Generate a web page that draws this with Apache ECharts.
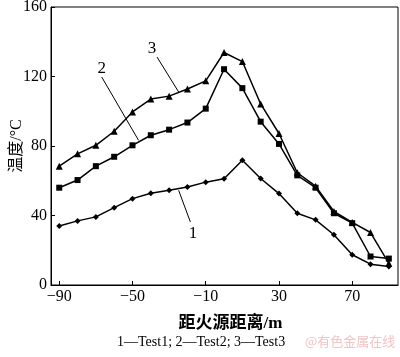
<!DOCTYPE html>
<html><head><meta charset="utf-8">
<script src="https://cdn.jsdelivr.net/npm/echarts@6/dist/echarts.min.js"></script>
<style>html,body{margin:0;padding:0;background:#fff}#c{width:400px;height:357px}</style>
</head><body><div id="c"></div>
<script>
var distances = [-90,-80,-70,-60,-50,-40,-30,-20,-10,0,10,20,30,40,50,60,70,80,90];
var test1 = [34.0,36.9,39.2,44.5,49.7,52.8,54.5,56.4,59.2,61.2,71.8,61.3,52.6,41.3,37.5,28.9,17.4,12.0,10.7];
var test2 = [56.0,60.4,68.4,73.8,80.4,86.2,89.4,93.5,101.5,124.2,113.3,94.0,81.2,63.1,56.0,41.3,35.6,16.4,15.2];
var test3 = [68.4,75.5,80.4,88.5,99.6,107.0,108.7,112.8,117.5,133.8,128.6,104.2,87.2,64.6,56.9,42.3,36.0,30.2,12.5];
var xTicks = [-90,-50,-10,30,70];
var yTicks = [0,40,80,120,160];
var seriesNames = ['Test1','Test2','Test3'];
var labelTexts = ['1','2','3'];
var labelPos = [[-16.9,29.6],[-66.8,124.5],[-39.4,136]];
var leaders = [[[-18.4,36.3],[-24.8,54.5]],[[-66.8,119.7],[-46.7,83.3]],[[-36.6,131.2],[-24.8,111.1]]];

var serif = '"Liberation Serif", "Times New Roman", serif';
var cjk = '"Liberation Serif", "Noto Sans CJK SC", serif';
function pairs(arr){ return distances.map(function(d,i){return [d, arr[i]];}); }
var symbols = ['diamond','rect','triangle'];
var sizes = [6,6,7];
var data = [test1,test2,test3];
var chart = echarts.init(document.getElementById('c'));
var series = data.map(function(arr, k){
  return {
    name: seriesNames[k], type: 'line', data: pairs(arr),
    symbol: symbols[k], symbolSize: sizes[k], showAllSymbol: true,
    lineStyle: {color:'#000', width:1.5}, itemStyle: {color:'#000'},
    animation: false, z: 3,
    markLine: {silent:true, symbol:'none', animation:false,
      lineStyle:{color:'#000', width:1, type:'solid'}, label:{show:false},
      data: [[{coord: leaders[k][0]},{coord: leaders[k][1]}]]},
    markPoint: {silent:true, symbol:'circle', symbolSize:1, animation:false,
      itemStyle:{color:'rgba(0,0,0,0)'},
      label:{show:true, position:'inside', formatter: labelTexts[k], color:'#000', fontFamily: serif, fontSize: 17},
      data: [{coord: labelPos[k]}]}
  };
});
chart.setOption({
  animation: false,
  grid: {left:51, right:2, top:7, bottom:72, show:true, borderColor:'#000', borderWidth:1, containLabel:false, outerBoundsMode:'none'},
  xAxis: {
    type:'value', min:-94.5, max:95, scale:true,
    name:'距火源距离/m', nameLocation:'middle', nameGap:30, nameMoveOverlap:false,
    nameTextStyle:{color:'#000', fontFamily: cjk, fontSize:17, fontWeight:'bold', padding:[0,0,0,12]},
    axisLine:{show:true, onZero:false, lineStyle:{color:'#000', width:1}},
    axisTick:{show:true, inside:true, length:4, customValues: xTicks, lineStyle:{color:'#000'}},
    axisLabel:{color:'#000', fontFamily: serif, fontSize:16, margin:4, customValues: xTicks,
      formatter:function(v){return String(v).replace('-','\u2212');}},
    splitLine:{show:false}
  },
  yAxis: {
    type:'value', min:0, max:160, interval:40,
    name:'温度/°C', nameLocation:'middle', nameGap:26, nameRotate:90, nameMoveOverlap:false,
    nameTextStyle:{color:'#000', fontFamily: cjk, fontSize:16},
    axisLine:{show:true, onZero:false, lineStyle:{color:'#000', width:1}},
    axisTick:{show:true, inside:true, length:4, lineStyle:{color:'#000'}},
    axisLabel:{color:'#000', fontFamily: serif, fontSize:16, margin:4},
    splitLine:{show:false}
  },
  graphic: [
    {type:'text', left:117, top:335, style:{text:'1—Test1; 2—Test2; 3—Test3', fill:'#000', font:'14px "Liberation Serif", serif'}},
    {type:'text', left:305, top:335, style:{text:'@有色金属在线', fill:'#f2c4c4', font:'13px "Noto Sans CJK SC", sans-serif'}}
  ],
  series: series
});
</script>
</body></html>
